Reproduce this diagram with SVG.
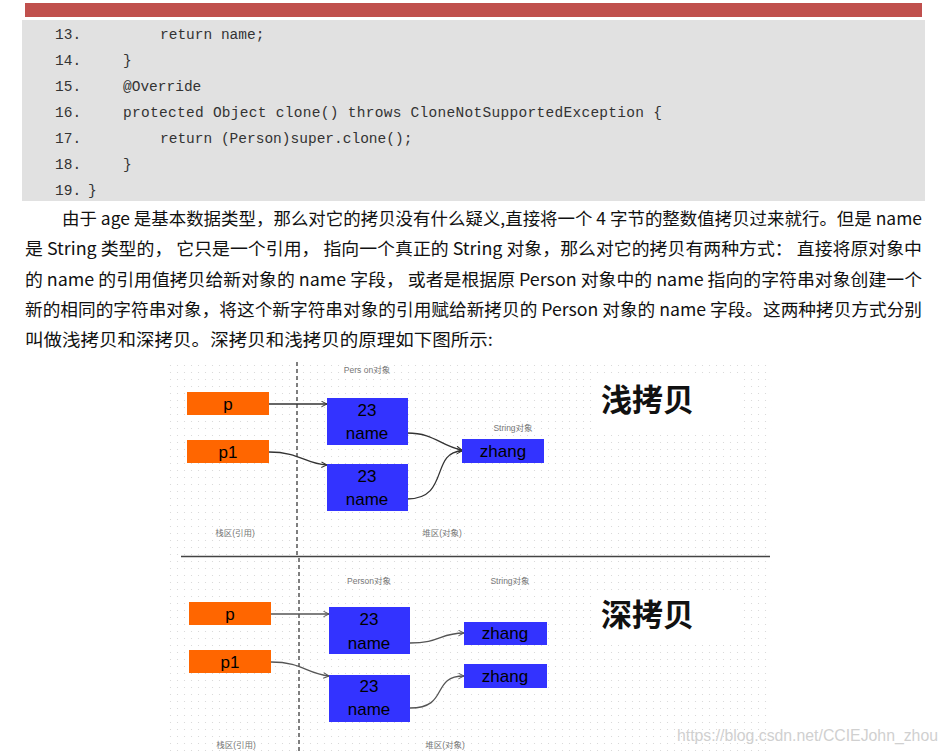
<svg xmlns="http://www.w3.org/2000/svg" width="947" height="754" viewBox="0 0 947 754">
<defs>
<pattern id="dots" x="167" y="362" width="7" height="7" patternUnits="userSpaceOnUse">
<circle cx="3.5" cy="3.5" r="0.6" fill="#d4d4d4"/>
</pattern>
<marker id="arr" viewBox="0 0 10 10" refX="9" refY="5" markerWidth="7" markerHeight="7" markerUnits="userSpaceOnUse" orient="auto">
<path d="M1,1 L9,5 L1,9" fill="none" stroke="#333" stroke-width="1.4"/>
</marker>
<marker id="arr2" viewBox="0 0 10 10" refX="9" refY="5" markerWidth="7" markerHeight="7" markerUnits="userSpaceOnUse" orient="auto">
<path d="M1,1 L9,5 L1,9" fill="none" stroke="#555" stroke-width="1.4"/>
</marker>
</defs>
<style>
.code{font-family:"Liberation Mono","DejaVu Sans Mono",monospace;font-size:14.5px;fill:#333}
.para{font-family:"Noto Sans CJK SC","Liberation Sans",sans-serif;font-size:17px;fill:#111}
.ref{fill:#ff6600}
.obj{fill:#3333ff}
.bt{font-family:"Liberation Sans",Arial,sans-serif;font-size:17px;fill:#000;text-anchor:middle}
.small{font-family:"Liberation Sans","Noto Sans CJK SC",sans-serif;font-size:8.5px;fill:#777;text-anchor:middle}
.title{font-family:"Noto Sans CJK SC",sans-serif;font-size:31px;font-weight:700;fill:#111}
.conn{fill:none;stroke:#333;stroke-width:1.3}
.conn2{fill:none;stroke:#555;stroke-width:1.3}
.dash{stroke:#555;stroke-width:1.5;stroke-dasharray:4 3}
</style>
<rect width="947" height="754" fill="#fff"/>
<rect x="25" y="3" width="897" height="14" fill="#c0504d"/>
<rect x="22" y="20" width="903" height="181" fill="#e1e1e1"/>
<g id="code">
<text class="code" x="55" y="39">13.</text><text class="code" x="160" y="39">return name;</text>
<text class="code" x="55" y="65">14.</text><text class="code" x="123" y="65">}</text>
<text class="code" x="55" y="91">15.</text><text class="code" x="123" y="91">@Override</text>
<text class="code" x="55" y="117">16.</text><text class="code" x="123" y="117" textLength="539">protected Object clone() throws CloneNotSupportedException {</text>
<text class="code" x="55" y="143">17.</text><text class="code" x="160" y="143">return (Person)super.clone();</text>
<text class="code" x="55" y="169">18.</text><text class="code" x="123" y="169">}</text>
<text class="code" x="55" y="195">19.</text><text class="code" x="88" y="195">}</text>
</g>
<g id="paragraph">
<text class="para" x="62" y="225" textLength="860" lengthAdjust="spacingAndGlyphs">由于 age 是基本数据类型，那么对它的拷贝没有什么疑义,直接将一个 4 字节的整数值拷贝过来就行。但是 name</text>
<text class="para" x="25" y="255" textLength="897" lengthAdjust="spacingAndGlyphs">是 String 类型的， 它只是一个引用， 指向一个真正的 String 对象，那么对它的拷贝有两种方式： 直接将原对象中</text>
<text class="para" x="25" y="286" textLength="897" lengthAdjust="spacingAndGlyphs">的 name 的引用值拷贝给新对象的 name 字段， 或者是根据原 Person 对象中的 name 指向的字符串对象创建一个</text>
<text class="para" x="25" y="316" textLength="897" lengthAdjust="spacingAndGlyphs">新的相同的字符串对象，将这个新字符串对象的引用赋给新拷贝的 Person 对象的 name 字段。这两种拷贝方式分别</text>
<text class="para" x="25" y="346" textLength="468" lengthAdjust="spacingAndGlyphs">叫做浅拷贝和深拷贝。深拷贝和浅拷贝的原理如下图所示:</text>
</g>
<rect x="167" y="362" width="605" height="392" fill="url(#dots)"/>
<rect x="597" y="378" width="145" height="52" fill="#fff"/>
<rect x="597" y="590" width="145" height="52" fill="#fff"/>
<line class="dash" x1="297" y1="362" x2="297" y2="556"/>
<line class="dash" x1="299" y1="558" x2="299" y2="754"/>
<line x1="181" y1="556.5" x2="770" y2="556.5" stroke="#444" stroke-width="1.5"/>
<g id="connectors">
<path class="conn" d="M269,404 L327,404" marker-end="url(#arr)"/>
<path class="conn" d="M269,452 C300,452 305,464 327,465" marker-end="url(#arr)"/>
<path class="conn" d="M407,433 C435,433 440,446 462,450" marker-end="url(#arr)"/>
<path class="conn" d="M407,499 C450,499 430,452 462,451" marker-end="url(#arr)"/>
<path class="conn2" d="M271,614 L329,614" marker-end="url(#arr2)"/>
<path class="conn2" d="M271,662 C302,662 307,674 329,676" marker-end="url(#arr2)"/>
<path class="conn2" d="M410,643 C440,643 440,633 464,633" marker-end="url(#arr2)"/>
<path class="conn2" d="M410,708 C450,708 430,676 464,676" marker-end="url(#arr2)"/>
</g>
<g id="shallow">
<text class="small" x="367" y="373">Pers on对象</text>
<g id="s-p"><rect class="ref" x="187" y="392" width="82" height="23"/><text class="bt" x="228" y="410">p</text></g>
<g id="s-p1"><rect class="ref" x="187" y="440" width="82" height="23"/><text class="bt" x="228" y="458">p1</text></g>
<g id="s-obj1"><rect class="obj" x="327" y="398" width="81" height="47"/><text class="bt" x="367" y="416">23</text><text class="bt" x="367" y="439">name</text></g>
<g id="s-obj2"><rect class="obj" x="327" y="464" width="81" height="47"/><text class="bt" x="367" y="482">23</text><text class="bt" x="367" y="505">name</text></g>
<text class="small" x="513" y="431">String对象</text>
<g id="s-str"><rect class="obj" x="462" y="439" width="82" height="24"/><text class="bt" x="503" y="457">zhang</text></g>
<text class="title" x="601" y="411">浅拷贝</text>
<text class="small" x="235" y="536">栈区(引用)</text>
<text class="small" x="442" y="536">堆区(对象)</text>
</g>
<g id="deep">
<text class="small" x="369" y="584">Person对象</text>
<text class="small" x="510" y="584">String对象</text>
<g id="d-p"><rect class="ref" x="189" y="602" width="82" height="23"/><text class="bt" x="230" y="620">p</text></g>
<g id="d-p1"><rect class="ref" x="189" y="650" width="82" height="23"/><text class="bt" x="230" y="668">p1</text></g>
<g id="d-obj1"><rect class="obj" x="329" y="607" width="81" height="47"/><text class="bt" x="369" y="625">23</text><text class="bt" x="369" y="649">name</text></g>
<g id="d-obj2"><rect class="obj" x="329" y="675" width="81" height="47"/><text class="bt" x="369" y="692">23</text><text class="bt" x="369" y="715">name</text></g>
<g id="d-str1"><rect class="obj" x="464" y="622" width="83" height="23"/><text class="bt" x="505" y="639">zhang</text></g>
<g id="d-str2"><rect class="obj" x="464" y="664" width="83" height="24"/><text class="bt" x="505" y="682">zhang</text></g>
<text class="title" x="601" y="626">深拷贝</text>
<text class="small" x="236" y="748">栈区(引用)</text>
<text class="small" x="445" y="748">堆区(对象)</text>
</g>
<text x="677" y="741" font-family="Liberation Sans,Arial,sans-serif" font-size="16" fill="#d0d0d0" textLength="261" lengthAdjust="spacingAndGlyphs">https://blog.csdn.net/CCIEJohn_zhou</text>
</svg>
